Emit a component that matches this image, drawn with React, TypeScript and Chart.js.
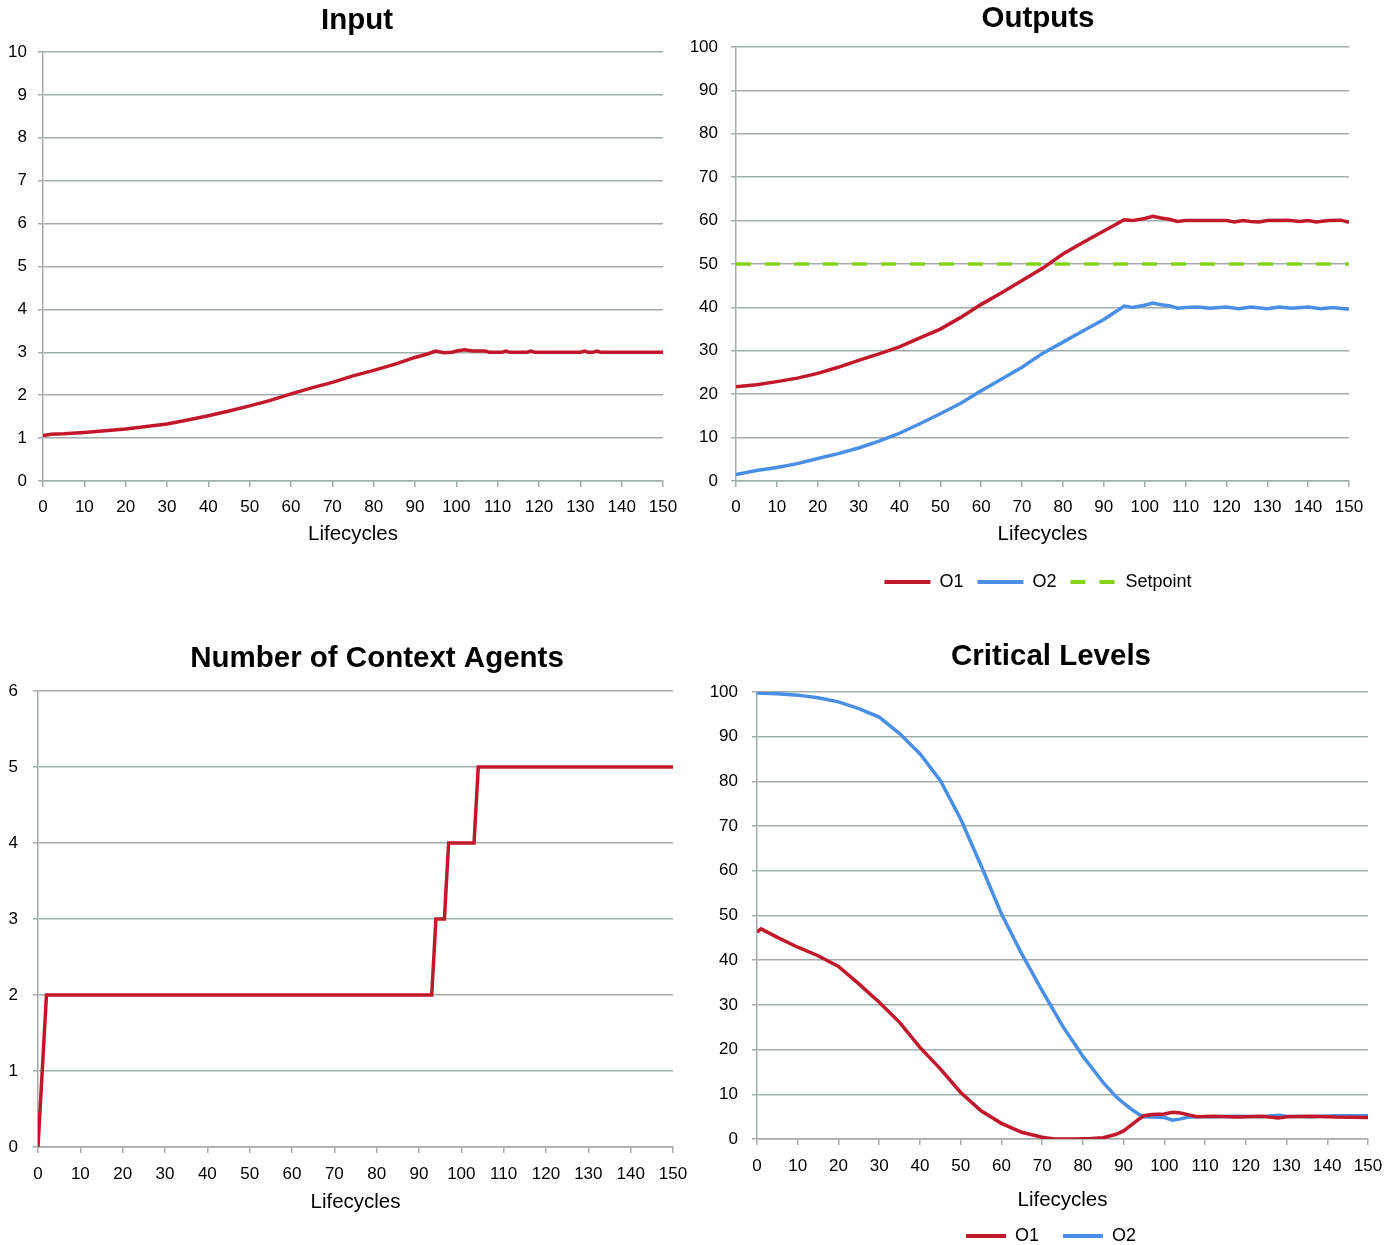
import React, { useEffect, useRef } from 'react';
import { Chart, registerables } from 'chart.js';

Chart.register(...registerables);

// ---------- data ----------
const xAxisTitle = 'Lifecycles';

// Input
const inputX = [0, 2, 5, 10, 15, 20, 25, 30, 35, 40, 45, 50, 55, 60, 65, 70, 75, 80, 85, 90, 93, 95, 97, 99, 100, 102, 104, 107, 108, 111, 112, 113, 117, 118, 119, 130, 131, 132, 133, 134, 135, 150];
const inputY = [1.06, 1.09, 1.10, 1.13, 1.17, 1.21, 1.27, 1.33, 1.42, 1.52, 1.63, 1.75, 1.88, 2.03, 2.17, 2.30, 2.45, 2.58, 2.72, 2.88, 2.96, 3.03, 2.99, 3.00, 3.03, 3.06, 3.03, 3.03, 3.00, 3.00, 3.03, 3.00, 3.00, 3.03, 3.00, 3.00, 3.03, 3.00, 3.00, 3.03, 3.00, 3.00];

// Outputs
const outO1X = [0, 5, 10, 15, 20, 25, 30, 35, 40, 45, 50, 55, 60, 65, 70, 75, 80, 85, 90, 95, 97, 100, 102, 104, 106, 108, 110, 115, 120, 122, 124, 126, 128, 130, 135, 138, 140, 142, 145, 148, 150];
const outO1Y = [21.7, 22.2, 22.9, 23.7, 24.8, 26.2, 27.8, 29.3, 30.9, 33.0, 35.0, 37.7, 40.7, 43.4, 46.2, 49.0, 52.3, 55.0, 57.6, 60.2, 60.0, 60.5, 61.0, 60.6, 60.3, 59.8, 60.0, 60.0, 60.0, 59.7, 60.0, 59.8, 59.7, 60.0, 60.1, 59.8, 60.0, 59.7, 60.0, 60.1, 59.6];
const outO2X = [0, 5, 10, 15, 20, 25, 30, 35, 40, 45, 50, 55, 60, 65, 70, 75, 80, 85, 90, 95, 97, 100, 102, 104, 106, 108, 110, 113, 116, 120, 123, 126, 130, 133, 136, 140, 143, 146, 150];
const outO2Y = [1.5, 2.4, 3.1, 4.0, 5.2, 6.3, 7.6, 9.2, 11.0, 13.2, 15.5, 17.9, 20.8, 23.5, 26.2, 29.4, 32.0, 34.6, 37.2, 40.3, 40.0, 40.5, 41.0, 40.6, 40.4, 39.8, 40.0, 40.1, 39.8, 40.1, 39.7, 40.1, 39.7, 40.1, 39.8, 40.1, 39.7, 40.0, 39.6];
const setpointX = [0, 150];
const setpointY = [50, 50];

// Number of Context Agents
const agentsX = [0, 2, 93, 94, 96, 97, 103, 104, 150];
const agentsY = [0, 2, 2, 3, 3, 4, 4, 5, 5];

// Critical Levels
const critO1X = [0, 1, 5, 10, 15, 20, 25, 30, 35, 40, 45, 50, 55, 60, 65, 70, 73, 78, 82, 85, 88, 90, 92, 94, 95, 97, 100, 102, 104, 106, 108, 112, 118, 124, 128, 130, 136, 142, 150];
const critO1Y = [46.3, 47.0, 45.1, 42.9, 41.0, 38.6, 34.7, 30.6, 26.1, 20.5, 15.7, 10.4, 6.3, 3.5, 1.5, 0.4, 0.0, 0.0, 0.1, 0.3, 1.0, 1.8, 3.2, 4.6, 5.2, 5.5, 5.6, 6.0, 5.8, 5.4, 5.0, 5.1, 4.9, 5.1, 4.7, 5.0, 5.1, 4.9, 4.8];
const critO2X = [0, 5, 10, 15, 20, 25, 30, 35, 40, 45, 50, 55, 60, 65, 70, 75, 80, 85, 88, 90, 92, 94, 95, 97, 100, 101, 102, 104, 106, 108, 112, 118, 124, 128, 130, 136, 142, 150];
const critO2Y = [99.8, 99.6, 99.3, 98.7, 97.8, 96.3, 94.4, 90.7, 86.2, 80.2, 71.6, 61.2, 50.4, 41.4, 33.2, 25.3, 18.5, 12.6, 9.6, 8.0, 6.6, 5.4, 5.0, 4.9, 4.8, 4.5, 4.2, 4.5, 4.9, 5.0, 5.0, 5.1, 5.0, 5.3, 5.1, 5.0, 5.2, 5.2];

// ---------- styles ----------
const FONT = '"Liberation Sans", Arial, sans-serif';
const GRID = '#a3acac';
const RED = '#c2182b';
const BLUE = '#4a8fe6';
const GREEN = '#86d31c';

const pts = (xs: number[], ys: number[]) => xs.map((x, i) => ({ x, y: ys[i] }));

const line = (label: string, xs: number[], ys: number[], color: string, dash: number[] = [], width = 3.5) => ({
  label,
  data: pts(xs, ys),
  borderColor: color,
  backgroundColor: color,
  borderWidth: width,
  borderDash: dash,
  pointRadius: 0,
  tension: 0,
  fill: false,
});

type Panel = {
  left: number; top: number; width: number; height: number;
  title: string; titleTop: number; titleBottom: number;
  yMax: number; yStep: number; yWidth: number; yPad: number;
  xHeight: number; xTickPad: number; xTitlePad: number;
  rightW: number; padBottom: number;
  legend?: { boxWidth: number; padding: number };
  datasets: any[];
};

const panels: Panel[] = [
  {
    left: 0, top: 0, width: 714, height: 560,
    title: 'Input', titleTop: 3.3, titleBottom: 13.3,
    yMax: 10, yStep: 1, yWidth: 43, yPad: 11,
    xHeight: 79, xTickPad: 10.3, xTitlePad: 13.7,
    rightW: 51, padBottom: 0,
    datasets: [line('Input', inputX, inputY, RED)],
  },
  {
    left: 680, top: 0, width: 716, height: 610,
    title: 'Outputs', titleTop: 1.3, titleBottom: 10.3,
    yMax: 100, yStep: 10, yWidth: 56, yPad: 13,
    xHeight: 78, xTickPad: 10.3, xTitlePad: 12.7,
    rightW: 47, padBottom: 9,
    legend: { boxWidth: 46, padding: 14 },
    datasets: [
      line('O1', outO1X, outO1Y, RED),
      line('O2', outO2X, outO2Y, BLUE),
      line('Setpoint', setpointX, setpointY, GREEN, [15, 14], 3.5),
    ],
  },
  {
    left: 0, top: 620, width: 754, height: 625,
    title: 'Number of Context Agents', titleTop: 21.3, titleBottom: 14.3,
    yMax: 6, yStep: 1, yWidth: 38, yPad: 15,
    xHeight: 98, xTickPad: 11.3, xTitlePad: 30.7,
    rightW: 81, padBottom: 0,
    datasets: [line('Agents', agentsX, agentsY, RED)],
  },
  {
    left: 700, top: 620, width: 702, height: 635,
    title: 'Critical Levels', titleTop: 19.3, titleBottom: 17.3,
    yMax: 100, yStep: 10, yWidth: 57, yPad: 14,
    xHeight: 64, xTickPad: 11.3, xTitlePad: -9.3,
    rightW: 34, padBottom: 0,
    legend: { boxWidth: 40, padding: 24 },
    datasets: [
      line('O1', critO1X, critO1Y, RED),
      line('O2', critO2X, critO2Y, BLUE),
    ],
  },
];

function makeConfig(p: Panel): any {
  return {
    type: 'line',
    data: { datasets: p.datasets },
    options: {
      responsive: false,
      animation: false,
      events: [],
      layout: { padding: { left: 0, right: 0, top: 0, bottom: p.padBottom } },
      plugins: {
        title: {
          display: true,
          text: p.title,
          color: '#000',
          font: { family: FONT, size: 29.5, weight: 'bold', lineHeight: 1.2 },
          padding: { top: p.titleTop, bottom: p.titleBottom },
        },
        legend: p.legend
          ? {
              display: true,
              position: 'bottom',
              labels: {
                usePointStyle: true,
                pointStyle: 'line',
                pointStyleWidth: p.legend.boxWidth,
                padding: p.legend.padding,
                color: '#000',
                font: { family: FONT, size: 18 },
                generateLabels: (chart: any) =>
                  Chart.defaults.plugins.legend.labels.generateLabels(chart).map((l: any) => ({
                    ...l,
                    lineWidth: 4,
                    lineDash: chart.data.datasets[l.datasetIndex].borderDash || [],
                  })),
              },
            }
          : { display: false },
        tooltip: { enabled: false },
      },
      scales: {
        x: {
          type: 'linear',
          min: 0,
          max: 150,
          afterFit: (s: any) => { s.height = p.xHeight; },
          ticks: {
            stepSize: 10,
            autoSkip: false,
            maxRotation: 0,
            padding: p.xTickPad,
            color: '#000',
            font: { family: FONT, size: 17 },
          },
          grid: { drawOnChartArea: false, drawTicks: true, tickLength: 6, color: GRID, lineWidth: 1.5 },
          border: { display: true, color: GRID, width: 1.5 },
          title: {
            display: true,
            text: xAxisTitle,
            color: '#000',
            font: { family: FONT, size: 20.5, lineHeight: 1.2 },
            padding: { top: 0, bottom: p.xTitlePad },
          },
        },
        y: {
          type: 'linear',
          min: 0,
          max: p.yMax,
          afterFit: (s: any) => { s.width = p.yWidth; },
          ticks: {
            stepSize: p.yStep,
            padding: p.yPad,
            color: '#000',
            font: { family: FONT, size: 17 },
          },
          grid: { color: GRID, lineWidth: 1.5, tickLength: 5, drawTicks: true },
          border: { display: true, color: GRID, width: 1.5 },
        },
        // empty right-hand box that reserves the margin right of the plot
        yRight: {
          type: 'linear',
          position: 'right',
          display: true,
          afterFit: (s: any) => { s.width = p.rightW; },
          ticks: { display: false },
          grid: { display: false, drawTicks: false },
          border: { display: false },
        },
      },
    },
  };
}

function ChartPanel({ p }: { p: Panel }) {
  const ref = useRef<HTMLCanvasElement | null>(null);
  useEffect(() => {
    const chart = new Chart(ref.current as HTMLCanvasElement, makeConfig(p));
    return () => chart.destroy();
  }, []);
  return (
    <canvas
      ref={ref}
      width={p.width}
      height={p.height}
      style={{ position: 'absolute', left: p.left, top: p.top, width: p.width, height: p.height }}
    />
  );
}

export default function App() {
  return (
    <div
      style={{
        position: 'absolute',
        left: 0,
        top: 0,
        width: 1400,
        height: 1245,
        overflow: 'hidden',
        background: '#fff',
      }}
    >
      {panels.map((p, i) => (
        <ChartPanel key={i} p={p} />
      ))}
    </div>
  );
}
